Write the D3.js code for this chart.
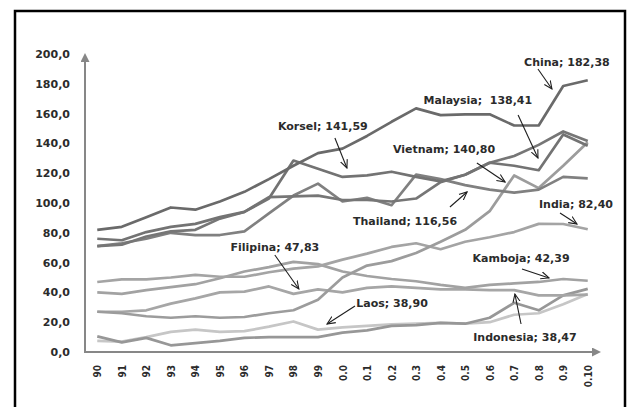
<!DOCTYPE html>
<html>
<head>
<meta charset="utf-8">
<script src="https://cdn.jsdelivr.net/npm/d3@7"></script>
<style>
	body {margin: 0; background: #fff;}
	svg text {font-family: "DejaVu Sans", sans-serif; font-weight: bold; fill: #2b2b2b;}
	.xaxis text {font-family: "DejaVu Sans Condensed", "DejaVu Sans", sans-serif; font-stretch: condensed; font-size: 10px;}
	.yaxis text {font-size: 11px;}
	.notes text {font-size: 11px;}
</style>
</head>
<body>
<div id="chart"></div>
<script>
var years = ["90","91","92","93","94","95","96","97","98","99","0.0","0.1","0.2","0.3","0.4","0.5","0.6","0.7","0.8","0.9","0.10"];
var yTicks = [0, 20, 40, 60, 80, 100, 120, 140, 160, 180, 200];

var china     = [82, 84, 90.5, 97, 95.5, 101, 107.5, 116, 125, 133.5, 136.5, 145, 154.5, 163.5, 159, 159.5, 159.5, 152, 152, 178.5, 182.38];
var korsel    = [71, 72, 77.5, 81, 82, 89.5, 94, 104, 104.5, 105, 102, 102, 101, 103, 114, 119, 127, 131.5, 139, 148, 141.59];
var malaysia  = [76, 75, 80.5, 84, 86, 90.5, 94, 103, 128.5, 123, 117.5, 118.5, 121, 117.5, 114.5, 119, 127, 125, 122, 146, 138.41];
var thailand  = [71, 73, 76, 80, 78.5, 78.5, 81, 93, 105, 113, 101, 103.5, 98.5, 119, 116, 112, 109, 107, 109, 117.5, 116.56];
var vietnam   = [27, 26, 24, 23, 24, 23, 23.5, 26, 28, 35, 50, 58, 61, 66.5, 74, 82, 94.5, 118.5, 110, 125, 140.80];
var india     = [47, 48.8, 48.8, 50, 51.7, 50.5, 50.5, 53.5, 56, 57.5, 62, 66, 70.5, 73, 69, 74, 77, 80.5, 86, 85.9, 82.40];
var filipina  = [40, 39, 41.5, 43.5, 45.5, 49.5, 54, 57, 60.5, 59, 54, 51, 49, 47.5, 45, 43, 45, 46, 47, 49, 47.83];
var indonesia = [27, 27, 28, 32.5, 36, 40, 40.5, 44, 39, 42, 40, 43, 44, 43, 42, 42, 41.5, 41.5, 38, 38, 38.47];
var kamboja   = [10.5, 6.5, 9.5, 4.5, 6, 7.5, 9.5, 10, 10, 10, 13, 14.5, 17.5, 18, 19.5, 19, 23, 33, 28, 38, 42.39];
var laos      = [7.5, 7, 10, 13.5, 15, 13.5, 14, 17, 20.5, 15, 16.5, 17.5, 18.5, 19, 19.5, 19, 20, 25, 26, 32, 38.90];

// drawing order: light ones under the dark ones
var series = [
	{name: "Laos", values: laos, color: "#c6c6c6"},
	{name: "Kamboja", values: kamboja, color: "#979797"},
	{name: "Indonesia", values: indonesia, color: "#a6a6a6"},
	{name: "Filipina", values: filipina, color: "#a2a2a2"},
	{name: "India", values: india, color: "#a4a4a4"},
	{name: "Vietnam", values: vietnam, color: "#9c9c9c"},
	{name: "Thailand", values: thailand, color: "#808080"},
	{name: "Korsel", values: korsel, color: "#767676"},
	{name: "Malaysia", values: malaysia, color: "#737373"},
	{name: "China", values: china, color: "#6a6a6a"}
];

// label text, anchor and arrow in data units (index along x, value)
var notes = [
	{text: "China; 182,38", at: [19.15, 194.6], from: [17.97, 189.9], to: [18.54, 176.5]},
	{text: "Malaysia;  138,41", at: [15.52, 169.1], from: [17.16, 159.1], to: [17.97, 130.2]},
	{text: "Korsel; 141,59", at: [9.2, 151.7], from: [9.69, 143.6], to: [10.18, 123.5]},
	{text: "Vietnam; 140,80", at: [14.14, 136.2], from: [15.48, 126.8], to: [16.63, 114.1]},
	{text: "Thailand; 116,56", at: [12.55, 87.9], from: [14.38, 97.3], to: [15.08, 107.4]},
	{text: "India; 82,40", at: [19.52, 99.3], from: [18.87, 93.3], to: [19.56, 85.9]},
	{text: "Filipina; 47,83", at: [7.24, 70.5], from: [7.24, 65.1], to: [8.22, 42.3]},
	{text: "Kamboja; 42,39", at: [17.28, 63.1], from: [17.32, 55.7], to: [18.42, 49.7]},
	{text: "Laos; 38,90", at: [12.02, 32.9], from: [10.51, 30.9], to: [9.37, 18.8]},
	{text: "Indonesia; 38,47", at: [17.44, 10.1], from: [17.28, 18.8], to: [17.03, 38.9]}
];

var width = 632, height = 407;
var svg = d3.select("#chart").append("svg")
	.attr("width", width)
	.attr("height", height);

var defs = svg.append("defs");
defs.append("marker")
	.attr("id", "axisHead")
	.attr("markerUnits", "userSpaceOnUse")
	.attr("viewBox", "0 0 10 10")
	.attr("refX", 0).attr("refY", 5)
	.attr("markerWidth", 9).attr("markerHeight", 9)
	.attr("orient", "auto")
	.append("path")
	.attr("d", "M0,0 L10,5 L0,10 Z")
	.attr("fill", "#878787");
defs.append("marker")
	.attr("id", "noteHead")
	.attr("markerUnits", "userSpaceOnUse")
	.attr("viewBox", "0 0 10 10")
	.attr("refX", 9).attr("refY", 5)
	.attr("markerWidth", 9).attr("markerHeight", 9)
	.attr("orient", "auto")
	.append("path")
	.attr("d", "M0,1 L9,5 L0,9")
	.attr("fill", "none")
	.attr("stroke", "#1e1e1e")
	.attr("stroke-width", 1.2);

// frame
svg.append("rect")
	.attr("x", 15).attr("y", 11)
	.attr("width", 610).attr("height", 430)
	.attr("fill", "none")
	.attr("stroke", "#000")
	.attr("stroke-width", 2.5);

var x = d3.scalePoint().domain(years).range([85, 600]).padding(0.5);
var xi = d3.scaleLinear().domain([0, years.length - 1]).range([x(years[0]), x(years[years.length - 1])]);
var y = d3.scaleLinear().domain([0, 200]).range([352, 54]);

var yAxis = svg.append("g")
	.attr("class", "yaxis")
	.attr("transform", "translate(85,0)")
	.call(d3.axisLeft(y).tickValues(yTicks).tickSize(0).tickPadding(15)
		.tickFormat(d => d3.format(".1f")(d).replace(".", ",")));
yAxis.select(".domain").remove();

var xAxis = svg.append("g")
	.attr("class", "xaxis")
	.attr("transform", "translate(0,352)")
	.call(d3.axisBottom(x).tickSize(0));
xAxis.select(".domain").remove();
xAxis.selectAll("text")
	.attr("transform", "rotate(-90)")
	.attr("text-anchor", "end")
	.attr("x", -13)
	.attr("y", 0)
	.attr("dy", "0.35em");

// axis lines with arrow heads
svg.append("line")
	.attr("x1", 85).attr("y1", y(0))
	.attr("x2", 85).attr("y2", y(200) + 8)
	.attr("stroke", "#878787").attr("stroke-width", 2)
	.attr("marker-end", "url(#axisHead)");
svg.append("line")
	.attr("x1", 84).attr("y1", y(0))
	.attr("x2", 592).attr("y2", y(0))
	.attr("stroke", "#878787").attr("stroke-width", 2)
	.attr("marker-end", "url(#axisHead)");

var line = d3.line()
	.x((d, i) => x(years[i]))
	.y(d => y(d));

svg.append("g")
	.attr("class", "lines")
	.selectAll("path")
	.data(series)
	.enter()
	.append("path")
	.attr("d", d => line(d.values))
	.attr("fill", "none")
	.attr("stroke", d => d.color)
	.attr("stroke-width", 2.7)
	.attr("stroke-linejoin", "round");

var note = svg.append("g")
	.attr("class", "notes")
	.selectAll("g")
	.data(notes)
	.enter()
	.append("g");

note.append("line")
	.attr("x1", d => xi(d.from[0])).attr("y1", d => y(d.from[1]))
	.attr("x2", d => xi(d.to[0])).attr("y2", d => y(d.to[1]))
	.attr("stroke", "#1e1e1e")
	.attr("stroke-width", 1.1)
	.attr("marker-end", "url(#noteHead)");

note.append("text")
	.attr("x", d => xi(d.at[0]))
	.attr("y", d => y(d.at[1]))
	.attr("dy", "0.35em")
	.attr("text-anchor", "middle")
	.attr("xml:space", "preserve")
	.style("white-space", "pre")
	.text(d => d.text);
</script>
</body>
</html>
